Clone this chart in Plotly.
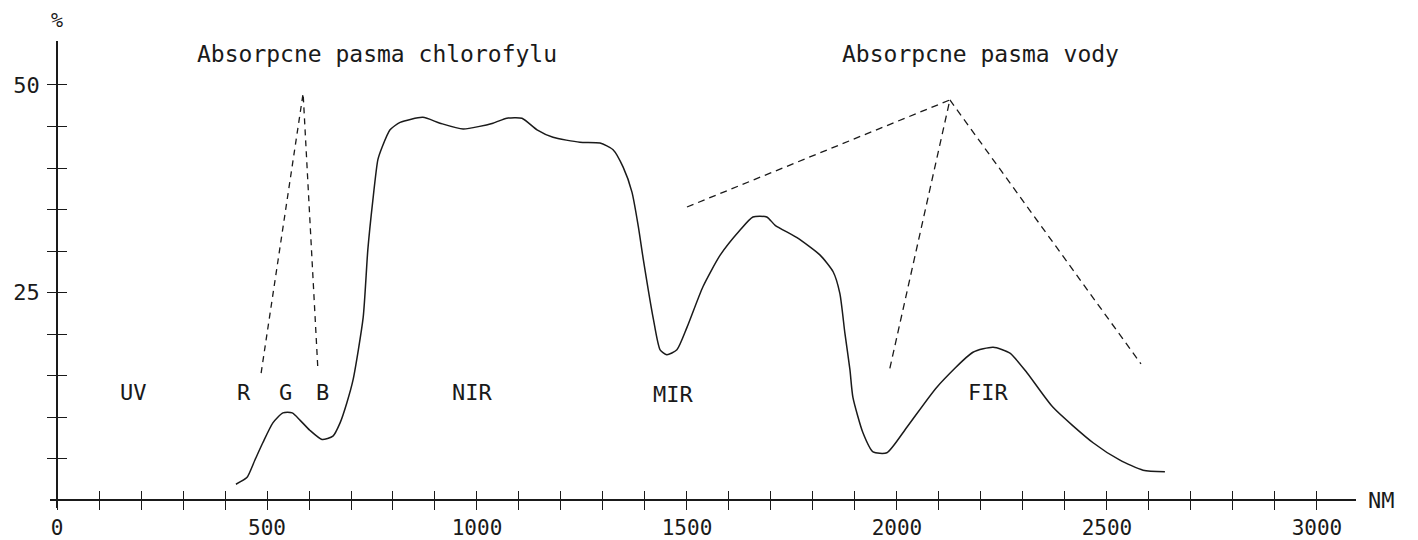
import plotly.graph_objects as go

# ---- data ----
wavelength = [426, 452, 471, 490, 514, 538, 560, 579, 602, 631, 657, 674, 690, 705,
              729, 740, 752, 764, 774, 793, 817, 871, 912, 967, 1038, 1071, 1107,
              1143, 1181, 1245, 1293, 1324, 1348, 1369, 1384, 1396, 1420, 1436, 1452,
              1476, 1500, 1538, 1579, 1626, 1657, 1690, 1710, 1762, 1817, 1848, 1864,
              1876, 1888, 1895, 1919, 1943, 1976, 2024, 2095, 2181, 2229, 2269, 2310,
              2371, 2467, 2531, 2586, 2638]
reflectance = [1.9, 2.7, 4.8, 6.9, 9.3, 10.5, 10.5, 9.6, 8.4, 7.3, 7.7, 9.3, 11.7, 14.5,
               22.0, 30.1, 36.1, 41.0, 42.5, 44.6, 45.5, 46.1, 45.4, 44.7, 45.4, 46.0, 46.0,
               44.6, 43.7, 43.1, 43.0, 42.2, 40.1, 37.1, 33.0, 29.0, 21.8, 18.1, 17.5,
               18.1, 20.8, 25.7, 29.5, 32.5, 34.1, 34.1, 33.1, 31.6, 29.5, 27.5, 24.9,
               20.1, 15.7, 12.4, 8.1, 5.8, 5.7, 8.8, 13.6, 17.8, 18.4, 17.7, 15.3,
               11.2, 6.9, 4.8, 3.6, 3.4]

# chlorophyll absorption pointer (inverted V)
chl_x = [486, 586, 621]
chl_y = [15.3, 49.0, 15.9]
# water absorption pointers (from apex to three bands)
water_x = [1500, 2126, 1981, None, 2126, 2581]
water_y = [35.3, 48.2, 15.4, None, 48.2, 16.4]

band_labels = ["UV", "R", "G", "B", "NIR", "MIR", "FIR"]
band_x = [181, 445, 543, 633, 988, 1467, 2217]
band_y = [12.9, 12.9, 12.9, 12.9, 12.9, 12.7, 12.9]

title_labels = ["Absorpcne pasma chlorofylu", "Absorpcne pasma vody"]
title_x = [762, 2198]
title_y = [53.7, 53.7]

x_tickvals = list(range(0, 3001, 100))
x_ticktext = [str(v) if v % 500 == 0 else "" for v in x_tickvals]
y_tickvals = list(range(5, 51, 5))
y_ticktext = [str(v) if v % 25 == 0 else "" for v in y_tickvals]

# ---- layout geometry ----
W, H = 1418, 540
ml, mr, mt, mb = 50, 62, 41, 32
xr = [-16.7, 3093]
yr = [-0.96, 55.3]
FONT = "DejaVu Sans Mono"
INK = "#1a1a1a"


def xfrac(v):
    return (v - xr[0]) / (xr[1] - xr[0])


def yfrac(v):
    return (v - yr[0]) / (yr[1] - yr[0])


def paper_x(px):
    return (px - ml) / (W - ml - mr)


def paper_y(py):
    return (H - mb - py) / (H - mt - mb)


fig = go.Figure()
fig.add_trace(go.Scatter(x=wavelength, y=reflectance, mode="lines",
                         line=dict(color=INK, width=1.5, shape="spline", smoothing=0.6),
                         hoverinfo="skip", showlegend=False))
fig.add_trace(go.Scatter(x=chl_x, y=chl_y, mode="lines",
                         line=dict(color=INK, width=1.3, dash="6px,5px"),
                         hoverinfo="skip", showlegend=False))
fig.add_trace(go.Scatter(x=water_x, y=water_y, mode="lines", connectgaps=False,
                         line=dict(color=INK, width=1.3, dash="7px,5px"),
                         hoverinfo="skip", showlegend=False))

for t, x, y in zip(band_labels, band_x, band_y):
    fig.add_annotation(x=x, y=y, text=t, showarrow=False, xanchor="center", yanchor="middle",
                       font=dict(family=FONT, size=22, color=INK))
for t, x, y in zip(title_labels, title_x, title_y):
    fig.add_annotation(x=x, y=y, text=t, showarrow=False, xanchor="center", yanchor="middle",
                       font=dict(family=FONT, size=23, color=INK))
fig.add_annotation(xref="paper", yref="paper", x=paper_x(57), y=paper_y(20), text="%",
                   showarrow=False, xanchor="center", yanchor="middle",
                   font=dict(family=FONT, size=20, color=INK))
fig.add_annotation(xref="paper", yref="paper", x=paper_x(1381), y=paper_y(500), text="NM",
                   showarrow=False, xanchor="center", yanchor="middle",
                   font=dict(family=FONT, size=22, color=INK))

fig.update_layout(
    width=W, height=H,
    margin=dict(l=ml, r=mr, t=mt, b=mb, autoexpand=False),
    paper_bgcolor="white", plot_bgcolor="white",
    xaxis=dict(range=xr, tickvals=x_tickvals, ticktext=x_ticktext, showgrid=False,
               zeroline=False, showline=True, linecolor=INK, linewidth=1.5,
               ticks="outside", ticklen=9, tickwidth=1.3, tickcolor=INK,
               anchor="free", position=yfrac(0), ticklabelstandoff=0, automargin=False,
               tickfont=dict(family=FONT, size=21, color=INK), fixedrange=True),
    xaxis2=dict(range=xr, tickvals=x_tickvals, showticklabels=False, showgrid=False,
                zeroline=False, showline=False, ticks="inside", ticklen=9, tickwidth=1.3,
                tickcolor=INK, overlaying="x", anchor="free", position=yfrac(0),
                side="bottom", automargin=False, fixedrange=True),
    yaxis=dict(range=yr, tickvals=y_tickvals, ticktext=y_ticktext, showgrid=False,
               zeroline=False, showline=True, linecolor=INK, linewidth=1.5,
               ticks="outside", ticklen=9, tickwidth=1.3, tickcolor=INK,
               anchor="free", position=xfrac(0), ticklabelstandoff=3, automargin=False,
               tickfont=dict(family=FONT, size=22, color=INK), fixedrange=True),
    yaxis2=dict(range=yr, tickvals=y_tickvals, showticklabels=False, showgrid=False,
                zeroline=False, showline=False, ticks="inside", ticklen=9, tickwidth=1.3,
                tickcolor=INK, overlaying="y", anchor="free", position=xfrac(0),
                side="left", automargin=False, fixedrange=True),
    showlegend=False,
)
# invisible trace to activate the overlay axes
fig.add_trace(go.Scatter(x=[None], y=[None], xaxis="x2", yaxis="y2", showlegend=False,
                         hoverinfo="skip"))

fig.write_html("out.html", config={"displayModeBar": False},
               post_script="document.body.style.margin='0';document.body.style.overflow='hidden';")
